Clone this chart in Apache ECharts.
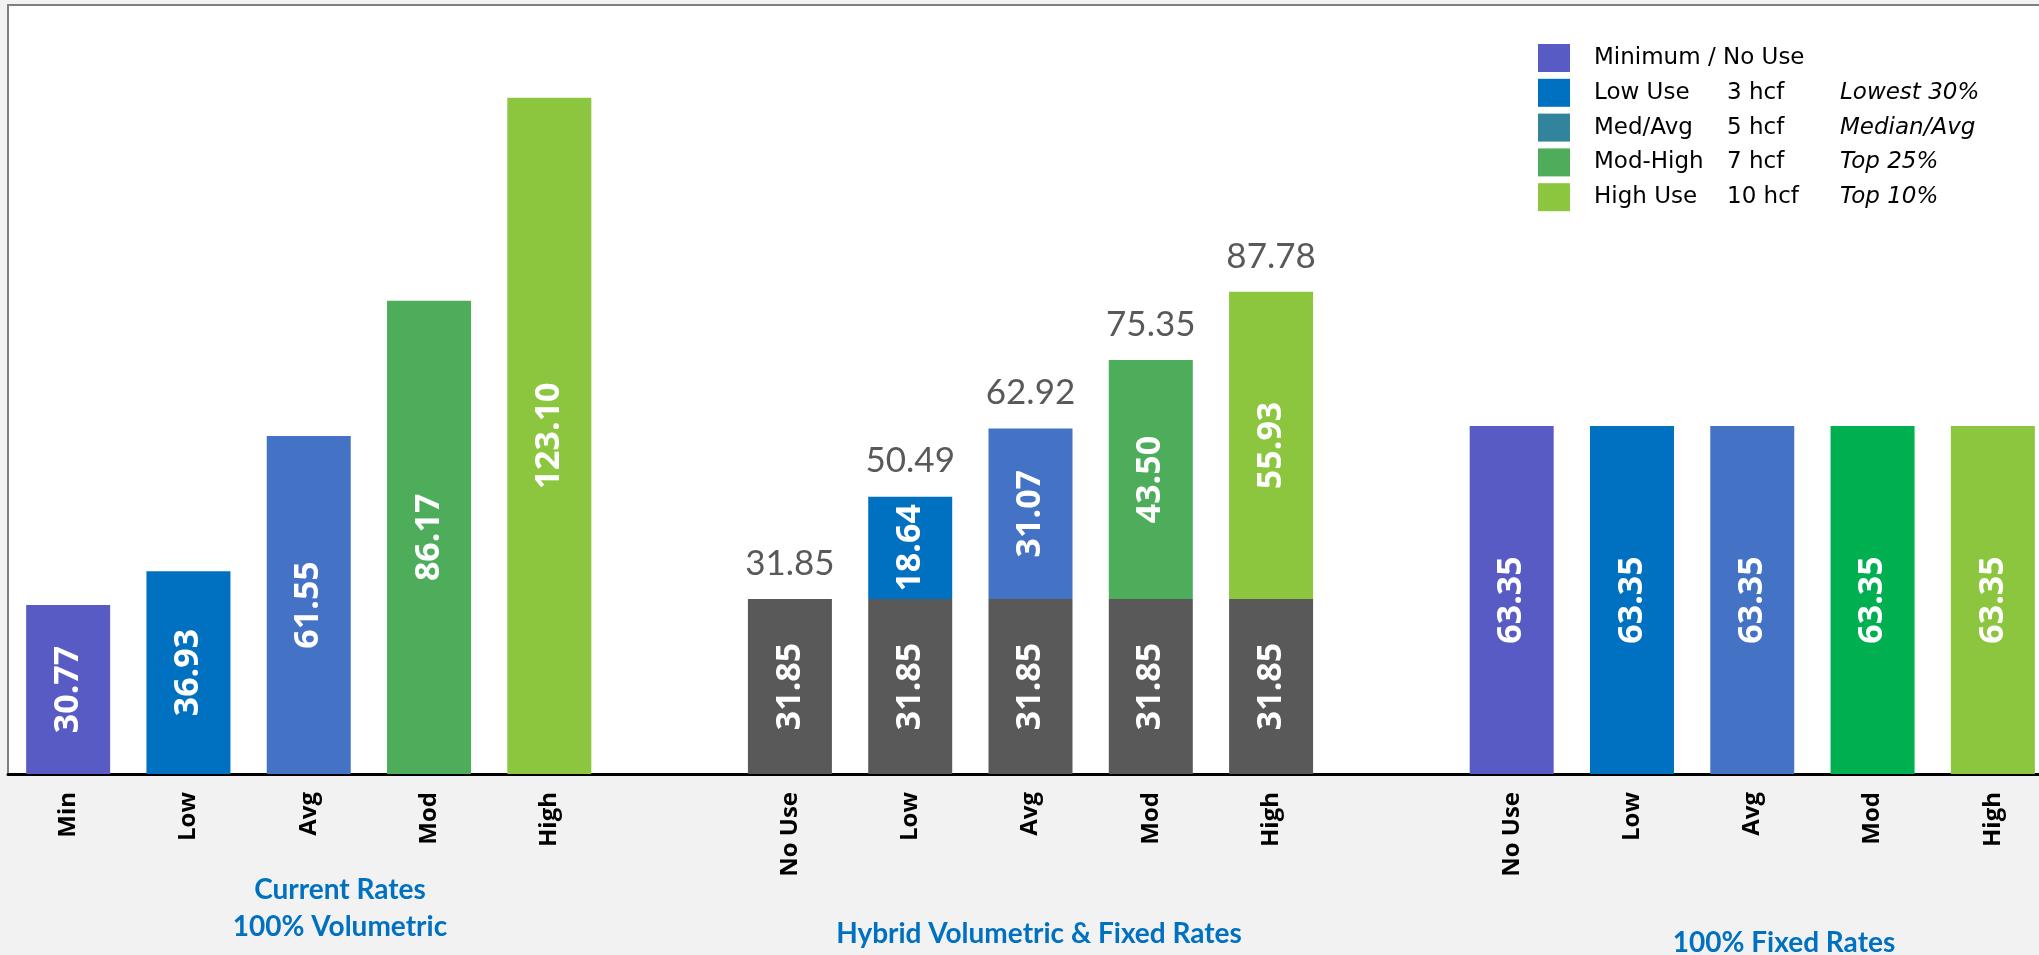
<!DOCTYPE html>
<html>
<head>
<meta charset="utf-8">
<script src="https://cdn.jsdelivr.net/npm/echarts@6/dist/echarts.min.js"></script>
<style>
  html, body { margin: 0; padding: 0; background: #f2f2f2; }
  #container { width: 2039px; height: 955px; }
</style>
</head>
<body>
<div id="container"></div>
<script>
var categories = ['Min', 'Low', 'Avg', 'Mod', 'High', '',
  'No Use', 'Low', 'Avg', 'Mod', 'High', '',
  'No Use', 'Low', 'Avg', 'Mod', 'High'];

var currentRates = [30.77, 36.93, 61.55, 86.17, 123.10];
var hybridFixed = [31.85, 31.85, 31.85, 31.85, 31.85];
var hybridVolumetric = [0, 18.64, 31.07, 43.50, 55.93];
var fixedRates = [63.35, 63.35, 63.35, 63.35, 63.35];

var groupTitles = ['Current Rates\n100% Volumetric', 'Hybrid Volumetric & Fixed Rates', '100% Fixed Rates'];

var legendNames = ['Minimum / No Use', 'Low Use', 'Med/Avg', 'Mod-High', 'High Use'];
var legendAmounts = ['', '3 hcf', '5 hcf', '7 hcf', '10 hcf'];
var legendNotes = ['', 'Lowest 30%', 'Median/Avg', 'Top 25%', 'Top 10%'];

// colours
var legendColors = ['#595bc4', '#0070c0', '#31849b', '#4ead5b', '#8cc63f'];
var useColors = ['#595bc4', '#0070c0', '#4472c4', '#4ead5b', '#8cc63f'];
var fixedColors = ['#595bc4', '#0070c0', '#4472c4', '#00b050', '#8cc63f'];
var grey = '#595959';

function styled(values, colors) {
  return values.map(function (v, i) {
    return { value: v, itemStyle: { color: Array.isArray(colors) ? colors[i] : colors } };
  });
}
function blanks(n) {
  return Array(n).fill('-');
}

var baseData = [].concat(
  styled(currentRates, useColors), blanks(1),
  styled(hybridFixed, grey), blanks(1),
  styled(fixedRates, fixedColors)
);
var volData = [].concat(blanks(6), styled(hybridVolumetric, useColors), blanks(6));
var totalData = [].concat(blanks(6), hybridVolumetric.map(function () { return 0; }), blanks(6));

var insideLabel = {
  show: true,
  position: 'inside',
  rotate: 90,
  color: '#fff',
  fontFamily: 'Open Sans',
  fontWeight: 'bold',
  fontSize: 34,
  formatter: function (p) {
    return p.value ? p.value.toFixed(2) : '';
  }
};

var dom = document.getElementById('container');
var myChart = echarts.init(dom);

var series = [
  {
    name: 'base',
    type: 'bar',
    stack: 'total',
    barWidth: 84,
    data: baseData,
    label: insideLabel
  },
  {
    name: 'volumetric',
    type: 'bar',
    stack: 'total',
    barWidth: 84,
    data: volData,
    label: insideLabel
  },
  {
    name: 'total',
    type: 'bar',
    stack: 'total',
    barWidth: 84,
    data: totalData,
    label: {
      show: true,
      position: 'top',
      distance: 18,
      color: '#595959',
      fontFamily: 'Lato',
      fontSize: 35,
      formatter: function (p) {
        var i = p.dataIndex - 6;
        return (hybridFixed[i] + hybridVolumetric[i]).toFixed(2);
      }
    }
  }
];

// empty series only to feed the legend
legendNames.forEach(function (name, i) {
  series.push({
    name: name,
    type: 'bar',
    stack: 'total',
    barWidth: 84,
    data: [],
    itemStyle: { color: legendColors[i] }
  });
});

var titleX = [335, 1034, 1779];
var titleY = [866, 910, 919];

var option = {
  backgroundColor: '#f2f2f2',
  animation: false,
  title: groupTitles.map(function (t, i) {
    return {
      text: t,
      left: titleX[i],
      top: titleY[i],
      textAlign: 'center',
      textStyle: {
        color: '#0070c0',
        fontFamily: 'Lato',
        fontWeight: 'bold',
        fontSize: 28,
        lineHeight: 37
      }
    };
  }),
  legend: {
    data: legendNames,
    orient: 'vertical',
    left: 1538,
    top: 44,
    padding: 0,
    icon: 'rect',
    itemWidth: 32,
    itemHeight: 28,
    itemGap: 6.8,
    selectedMode: false,
    formatter: function (name) {
      var i = legendNames.indexOf(name);
      return '{a|' + name + '}{b|' + legendAmounts[i] + '}{c|' + legendNotes[i] + '}';
    },
    textStyle: {
      fontFamily: 'DejaVu Sans',
      fontSize: 23,
      lineHeight: 28,
      color: '#000',
      rich: {
        a: { fontFamily: 'DejaVu Sans', fontSize: 23, lineHeight: 28, width: 133, padding: [0, 0, 0, 19] },
        b: { fontFamily: 'DejaVu Sans', fontSize: 23, lineHeight: 28, width: 113 },
        c: { fontFamily: 'DejaVu Sans', fontSize: 23, lineHeight: 28, fontStyle: 'italic' }
      }
    }
  },
  grid: {
    left: 8,
    top: 5,
    width: 2045,
    bottom: 181,
    outerBoundsMode: 'none',
    show: true,
    backgroundColor: '#fff',
    borderColor: '#7f7f7f',
    borderWidth: 2
  },
  xAxis: {
    type: 'category',
    data: categories,
    axisLine: { lineStyle: { color: '#000', width: 3 } },
    axisTick: { show: false },
    axisLabel: {
      interval: 0,
      rotate: 90,
      margin: 18,
      color: '#000',
      fontFamily: 'Open Sans',
      fontWeight: 'bold',
      fontSize: 24
    }
  },
  yAxis: {
    type: 'value',
    min: 0,
    max: 140,
    show: false,
    splitLine: { show: false }
  },
  series: series
};

myChart.setOption(option);
window.onresize = function () {
  myChart.resize();
};
</script>
</body>
</html>
